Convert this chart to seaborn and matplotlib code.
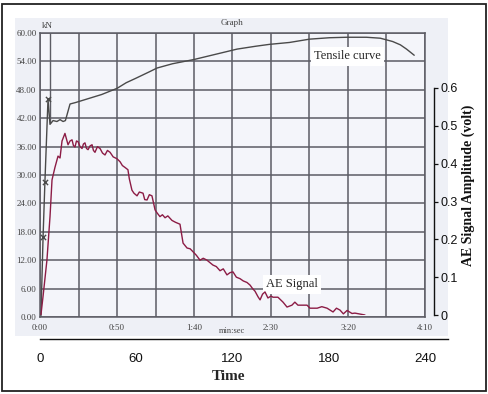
import matplotlib
matplotlib.use("Agg")
import matplotlib.pyplot as plt
import seaborn as sns
import pandas as pd
from matplotlib.patches import Rectangle

# ---------------- data ----------------
tensile_t = [0.6, 2.0, 3.2, 5.2, 6.5, 8.5, 11, 13, 15, 16.5, 19.5, 23, 30, 40, 50, 56,
             62, 71, 76, 86, 100, 114, 128, 140, 149, 162, 175, 188, 199, 212, 221,
             229, 234, 238, 243]
tensile_kn = [0, 17, 28.6, 46, 40.7, 41.5, 41.3, 41.7, 41.3, 41.5, 45, 45.3, 46, 47, 48.3, 49.5,
              50.4, 51.8, 52.6, 53.5, 54.4, 55.5, 56.6, 57.2, 57.6, 58, 58.7, 59, 59.1, 59.1, 58.9,
              58.2, 57.5, 56.6, 55.3]
marker_t = [2.0, 3.2, 5.2]
marker_kn = [17, 28.6, 46]

ae_t = [0.6, 2, 4.5, 6.5, 7.8, 9.7, 11.7, 13, 14.3, 16.2, 17.2, 18.2, 19.5, 20.8, 21.7, 22.7,
        23.7, 24.7, 26, 27.3, 28.2, 29.2, 30.2, 31.2, 32.5, 33.8, 34.7, 35.7, 37.3, 39, 40.6,
        42.2, 43.8, 45.5, 47.5, 50, 52, 53.5, 55.2, 57.1, 58, 59.7, 61, 63, 64.5, 66.9, 68,
        69.5, 71, 72.7, 74.7, 76, 77.9, 79.5, 81.2, 83, 85.7, 88, 90.9, 92.9, 95.5, 97.5, 99.4,
        101.5, 103.9, 106, 108.4, 110.5, 112.3, 114.5, 116.9, 119, 121.4, 123.4, 125.3, 127.5,
        129.9, 132, 134.4, 136.4, 138, 139.6, 141.6, 142.9, 144.5, 146.1, 148, 150, 151.3,
        154.5, 157.8, 160.4, 163.6, 165.5, 167.5, 170.5, 173.4, 175.3, 180, 183, 186.4, 190.3,
        192.5, 194.8, 197, 199.4, 202.6, 204.5, 211]
ae_v = [0, 0.05, 0.145, 0.26, 0.357, 0.39, 0.42, 0.415, 0.46, 0.48, 0.465, 0.45, 0.46, 0.463,
        0.448, 0.444, 0.46, 0.458, 0.445, 0.44, 0.452, 0.455, 0.44, 0.437, 0.447, 0.45, 0.435,
        0.43, 0.445, 0.44, 0.428, 0.423, 0.435, 0.43, 0.418, 0.413, 0.405, 0.395, 0.39, 0.384,
        0.36, 0.33, 0.322, 0.315, 0.325, 0.322, 0.305, 0.304, 0.318, 0.315, 0.278, 0.27, 0.26,
        0.265, 0.257, 0.262, 0.25, 0.245, 0.24, 0.19, 0.177, 0.175, 0.167, 0.158, 0.145, 0.15,
        0.145, 0.138, 0.132, 0.128, 0.117, 0.122, 0.106, 0.112, 0.114, 0.1, 0.096, 0.09, 0.086,
        0.079, 0.07, 0.063, 0.048, 0.04, 0.055, 0.061, 0.045, 0.05, 0.047, 0.047, 0.034, 0.021,
        0.026, 0.034, 0.026, 0.026, 0.026, 0.018, 0.018, 0.022, 0.018, 0.008, 0.018, 0.013,
        0.003, 0.012, 0.004, 0.005, 0]

kn_ticks = [0, 6, 12, 18, 24, 30, 36, 42, 48, 54, 60]
kn_labels = ["0.00", "6.00", "12.00", "18.00", "24.00", "30.00", "36.00",
             "42.00", "48.00", "54.00", "60.00"]
scan_time_ticks = [0, 25, 50, 75, 100, 125, 150, 175, 200, 225, 250]
scan_time_labels = ["0:00", "", "0:50", "", "1:40", "", "2:30", "", "3:20", "", "4:10"]
time_ticks = [0, 60, 120, 180, 240]
time_minor = [30, 90, 150, 210]
ae_ticks = [0, 0.1, 0.2, 0.3, 0.4, 0.5, 0.6]
ae_labels = ["0", "0.1", "0.2", "0.3", "0.4", "0.5", "0.6"]

# ---------------- figure ----------------
sns.set_style("white")
plt.rcParams['font.family'] = ['Liberation Serif', 'DejaVu Serif']

W, H = 488, 394
fig = plt.figure(figsize=(W / 100, H / 100), dpi=100)
fig.patch.set_facecolor("white")


def rect(l, t, r, b):
    return [l / W, 1 - b / H, (r - l) / W, (b - t) / H]


# outer border and scanned tint
fig.patches.append(Rectangle((2 / W, 1 - 391 / H), 484 / W, 387 / H, transform=fig.transFigure,
                             fill=False, ec="#222222", lw=1.3, zorder=5))
fig.patches.append(Rectangle((15 / W, 1 - 336 / H), 433 / W, 318 / H, transform=fig.transFigure,
                             fc="#eef0f6", ec="none", zorder=-5))

gcol = "#5c5c64"
ax = fig.add_axes(rect(40, 33, 425, 317))
ax.set_facecolor("#f4f5fa")
ax.set_xlim(0, 250)
ax.set_ylim(0, 60)
ax.set_xticks(scan_time_ticks)
ax.set_xticklabels(scan_time_labels)
ax.set_yticks(kn_ticks)
ax.set_yticklabels(kn_labels)
ax.tick_params(axis="x", length=0, pad=5, labelsize=6.5, labelcolor="#444444")
ax.tick_params(axis="y", length=2, width=0.8, color=gcol, pad=0.5, labelsize=6.5, labelcolor="#444444")
ax.grid(True, color=gcol, lw=1.1)
for s in ax.spines.values():
    s.set_color(gcol)
    s.set_linewidth(1.1)
ax.vlines(6.5, 41, 60, color=gcol, lw=1.0)

sns.lineplot(x=tensile_t, y=tensile_kn, ax=ax, color="#4a4a4a", lw=1.0, sort=False, estimator=None)
sns.scatterplot(x=marker_t, y=marker_kn, ax=ax, marker="x", color="#4a4a4a", s=14, linewidth=1.0, zorder=5)

ax.text(0.006, 1.012, "kN", transform=ax.transAxes, fontsize=6.5, color="#444444", ha="left", va="bottom")
ax.text(0.5, 1.02, "Graph", transform=ax.transAxes, fontsize=6.5, color="#444444", ha="center", va="bottom")
fig.text(232 / W, 1 - 331 / H, "min:sec", fontsize=6, color="#444444", ha="center", va="center")
ax.text(314 / W, 1 - 56 / H, "Tensile curve", transform=fig.transFigure, fontsize=9, ha="left",
        va="center", zorder=1, bbox=dict(fc="white", ec="none", pad=2.5))

# AE axis (right)
ax2 = fig.add_axes(rect(40, 88, 434, 315))
ax2.set_facecolor("none")
ax2.patch.set_alpha(0)
ax2.set_xlim(0, (434 - 40) / 1.54)
ax2.set_ylim(0, 0.6)
for k in ["left", "top", "bottom"]:
    ax2.spines[k].set_visible(False)
ax2.spines["right"].set_color("#111111")
ax2.spines["right"].set_linewidth(1.0)
ax2.set_xticks([])
ax2.yaxis.tick_right()
ax2.set_yticks(ae_ticks)
ax2.set_yticklabels(ae_labels, family=["Liberation Sans Narrow", "Liberation Sans"])
ax2.tick_params(axis="y", direction="out", length=3, width=0.9, pad=2, labelsize=9, colors="#111111")
ax2.text(266 / W, 1 - 284 / H, "AE Signal", transform=fig.transFigure, fontsize=9, ha="left",
         va="center", zorder=1, bbox=dict(fc="white", ec="none", pad=2.5))
sns.lineplot(x=ae_t, y=ae_v, ax=ax2, color="#8c1c45", lw=1.0, sort=False, estimator=None, zorder=3)
ax2.set_xlabel("")
ax2.set_ylabel("")
fig.text(468 / W, 1 - 185 / H, "AE Signal Amplitude (volt)", rotation=90, fontsize=10,
         fontweight="bold", ha="center", va="center", color="#111111")

# outer time axis
ax3 = fig.add_axes(rect(40, 300, 448, 339))
ax3.set_facecolor("none")
ax3.patch.set_alpha(0)
ax3.set_xlim(0, (448 - 40) / 1.604)
ax3.set_ylim(0, 1)
for k in ["left", "top", "right"]:
    ax3.spines[k].set_visible(False)
ax3.spines["bottom"].set_color("#111111")
ax3.spines["bottom"].set_linewidth(1.0)
ax3.set_yticks([])
ax3.set_xticks(time_ticks)
ax3.set_xticklabels([str(v) for v in time_ticks], family=["Liberation Sans Narrow", "Liberation Sans"])
ax3.set_xticks(time_minor, minor=True)
ax3.tick_params(axis="x", which="both", direction="inout", length=6, width=1.0, pad=7,
                labelsize=9.5, colors="#111111")
fig.text(228 / W, 1 - 377 / H, "Time", fontsize=11, fontweight="bold", ha="center", va="center")

fig.savefig("out.png", dpi=100)
